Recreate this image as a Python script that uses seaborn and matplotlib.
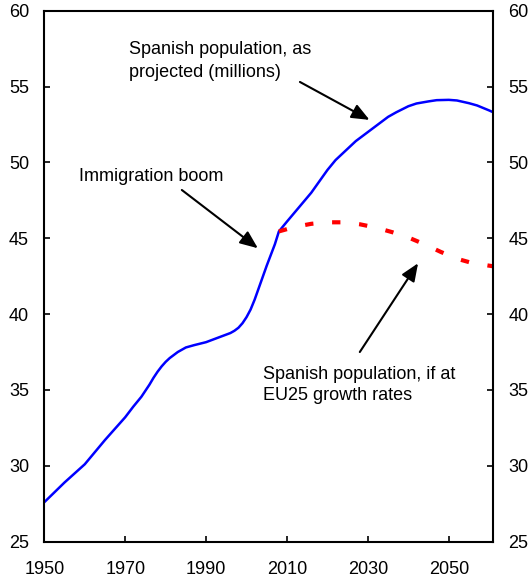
import matplotlib
matplotlib.use('Agg')
import matplotlib.pyplot as plt
import seaborn as sns

# Spanish population as projected (millions)
proj_years = [1950, 1955, 1960, 1965, 1970, 1972, 1974, 1975, 1976, 1977,
              1978, 1979, 1980, 1981, 1982, 1983, 1985, 1987, 1990, 1993,
              1996, 1997, 1998, 1999, 2000, 2001, 2002, 2003, 2005, 2007,
              2008, 2010, 2013, 2016, 2018, 2020, 2022, 2025, 2027, 2030,
              2032, 2035, 2037, 2040, 2042, 2045, 2047, 2050, 2052, 2055,
              2057, 2060, 2061]
proj_pop = [27.6, 28.9, 30.1, 31.7, 33.2, 33.9, 34.55, 34.95, 35.35, 35.8,
            36.2, 36.55, 36.85, 37.1, 37.3, 37.5, 37.8, 37.95, 38.15, 38.45,
            38.75, 38.9, 39.1, 39.4, 39.8, 40.3, 40.95, 41.7, 43.2, 44.6,
            45.45, 46.1, 47.05, 48.0, 48.75, 49.5, 50.15, 50.9, 51.4, 52.0,
            52.4, 53.0, 53.3, 53.7, 53.88, 54.02, 54.1, 54.12, 54.08, 53.9,
            53.75, 53.42, 53.3]

# Spanish population if growing at EU25 rates (millions)
eu_years = [2008, 2012, 2016, 2020, 2024, 2028, 2032, 2036, 2040, 2044,
            2048, 2052, 2056, 2061]
eu_pop = [45.45, 45.75, 45.95, 46.05, 46.05, 45.92, 45.7, 45.4, 45.05, 44.6,
          44.1, 43.65, 43.35, 43.15]

x_ticks = [1950, 1970, 1990, 2010, 2030, 2050]
y_ticks = [25, 30, 35, 40, 45, 50, 55, 60]

sns.set_style('white')
plt.rcParams['font.family'] = ['Liberation Sans', 'DejaVu Sans']
plt.rcParams['text.color'] = 'black'

fig = plt.figure(figsize=(5.31, 5.82), dpi=100)
ax = fig.add_axes([0.0834, 0.0693, 0.8456, 0.9124])

sns.lineplot(x=proj_years, y=proj_pop, color='#0000ff', lw=1.8, ax=ax)
sns.lineplot(x=eu_years, y=eu_pop, color='#ff0000', lw=3.0, ax=ax,
             linestyle=(0, (2, 4.5)), dash_capstyle='butt')

ax.set_xlim(1950, 2061)
ax.set_ylim(25, 60)
ax.set_xticks(x_ticks)
ax.set_yticks(y_ticks)

for side in ['left', 'right', 'top', 'bottom']:
    ax.spines[side].set_visible(True)
    ax.spines[side].set_color('black')
    ax.spines[side].set_linewidth(1.5)

ax.tick_params(axis='y', which='both', direction='in', length=4, width=1.2,
               left=True, right=True, labelleft=True, labelright=True,
               labelsize=13, pad=11, colors='black')
ax.tick_params(axis='x', direction='in', length=4, width=1.2, bottom=True,
               top=False, labelsize=13, pad=14, colors='black')

# annotations
arrow = dict(arrowstyle='-|>,head_length=0.6,head_width=0.25',
             mutation_scale=18, color='black', lw=1.5, shrinkA=0, shrinkB=0)

ax.text(1970.9, 56.7, 'Spanish population, as\nprojected (millions)',
        fontsize=13, ha='left', va='center', linespacing=1.45)
ax.annotate('', xy=(2030.4, 52.8), xytext=(2013.2, 55.3), arrowprops=arrow)

ax.text(1958.6, 49.1, 'Immigration boom', fontsize=13, ha='left', va='center')
ax.annotate('', xy=(2002.8, 44.34), xytext=(1984.0, 48.18), arrowprops=arrow)

ax.text(2004.0, 35.33, 'Spanish population, if at\nEU25 growth rates',
        fontsize=13, ha='left', va='center', linespacing=1.35)
ax.annotate('', xy=(2042.4, 43.35), xytext=(2028.0, 37.5), arrowprops=arrow)

ax.set_xlabel('')
ax.set_ylabel('')

fig.savefig('out.png', dpi=100)
